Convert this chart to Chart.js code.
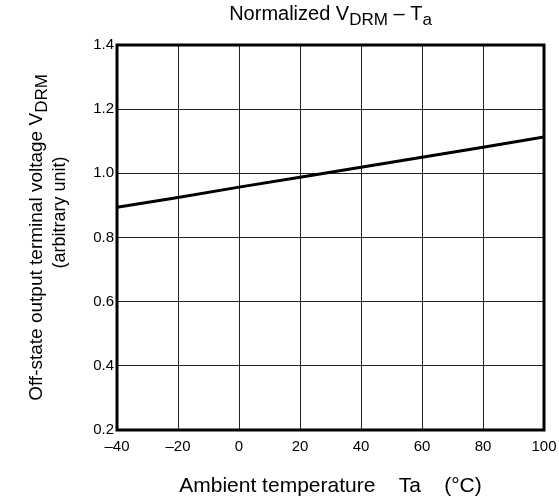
<!DOCTYPE html>
<html>
<head>
<meta charset="utf-8">
<script src="https://cdn.jsdelivr.net/npm/chart.js@4"></script>
<style>
  html, body { margin: 0; padding: 0; background: #fff; }
  #wrap { width: 559px; height: 501px; }
</style>
</head>
<body>
<div id="wrap"><canvas id="chart" width="559" height="501"></canvas></div>
<script>
const temps = [-40, -20, 0, 20, 40, 60, 80, 100];
const vdrm = [0.894, 0.925, 0.957, 0.988, 1.019, 1.050, 1.081, 1.113];
const xTicks = [-40, -20, 0, 20, 40, 60, 80, 100];
const yTicks = [0.2, 0.4, 0.6, 0.8, 1.0, 1.2, 1.4];

const FONT = '"Liberation Sans", Arial, sans-serif';

// text with subscript pieces: parts = [[text, isSub], ...], centred on cx
function drawParts(ctx, parts, cx, cy, size, subSize) {
    let total = 0;
    parts.forEach(p => {
        ctx.font = (p[1] ? subSize : size) + 'px ' + FONT;
        total += ctx.measureText(p[0]).width;
    });
    let x = cx - total / 2;
    ctx.textAlign = 'left';
    ctx.textBaseline = 'alphabetic';
    parts.forEach(p => {
        ctx.font = (p[1] ? subSize : size) + 'px ' + FONT;
        ctx.fillText(p[0], x, cy + (p[1] ? 5 : 0));
        x += ctx.measureText(p[0]).width;
    });
}

const textPlugin = {
    id: 'textPlugin',
    afterDraw(chart) {
        const ctx = chart.ctx;
        const a = chart.chartArea;
        const cx = (a.left + a.right) / 2;
        const cy = (a.top + a.bottom) / 2;
        ctx.save();
        ctx.strokeStyle = '#000';
        ctx.lineWidth = 3;
        ctx.strokeRect(a.left, a.top, a.right - a.left, a.bottom - a.top);
        ctx.fillStyle = '#000';
        drawParts(ctx, [['Normalized V', false], ['DRM', true], [' \u2013 T', false], ['a', true]], cx, 20, 20, 17);
        drawParts(ctx, [['Ambient temperature    Ta    (\u00b0C)', false]], cx, 492, 21, 21);
        ctx.save();
        ctx.translate(42, cy);
        ctx.rotate(-Math.PI / 2);
        drawParts(ctx, [['Off-state output terminal voltage V', false], ['DRM', true]], 0, 0, 19, 17);
        ctx.restore();
        ctx.save();
        ctx.translate(65, cy - 25);
        ctx.rotate(-Math.PI / 2);
        drawParts(ctx, [['(arbitrary unit)', false]], 0, 0, 18, 18);
        ctx.restore();
        ctx.restore();
    }
};

new Chart(document.getElementById('chart'), {
    type: 'line',
    data: {
        datasets: [{
            data: temps.map((t, i) => ({ x: t, y: vdrm[i] })),
            borderColor: '#000',
            borderWidth: 3,
            pointRadius: 0,
            tension: 0,
            fill: false
        }]
    },
    options: {
        responsive: false,
        animation: false,
        layout: { padding: { left: 0, top: 45, right: 15, bottom: 0 } },
        plugins: { legend: { display: false }, tooltip: { enabled: false } },
        scales: {
            x: {
                type: 'linear',
                min: -40,
                max: 100,
                afterFit(s) { s.height = 71; s.paddingLeft = 0; s.paddingRight = 0; },
                afterBuildTicks(s) { s.ticks = xTicks.map(v => ({ value: v })); },
                grid: { color: '#222', lineWidth: 1, drawTicks: false },
                border: { display: false },
                ticks: {
                    padding: 8,
                    color: '#000',
                    font: { family: FONT, size: 15 },
                    maxRotation: 0,
                    callback: v => String(v).replace('-', '\u2013')
                }
            },
            y: {
                min: 0.2,
                max: 1.4,
                afterFit(s) { s.width = 117; s.paddingTop = 0; s.paddingBottom = 0; },
                afterBuildTicks(s) { s.ticks = yTicks.map(v => ({ value: v })); },
                grid: { color: '#222', lineWidth: 1, drawTicks: false },
                border: { display: false },
                ticks: {
                    padding: 3,
                    color: '#000',
                    font: { family: FONT, size: 15 },
                    callback: v => v.toFixed(1)
                }
            }
        }
    },
    plugins: [textPlugin]
});
</script>
</body>
</html>
